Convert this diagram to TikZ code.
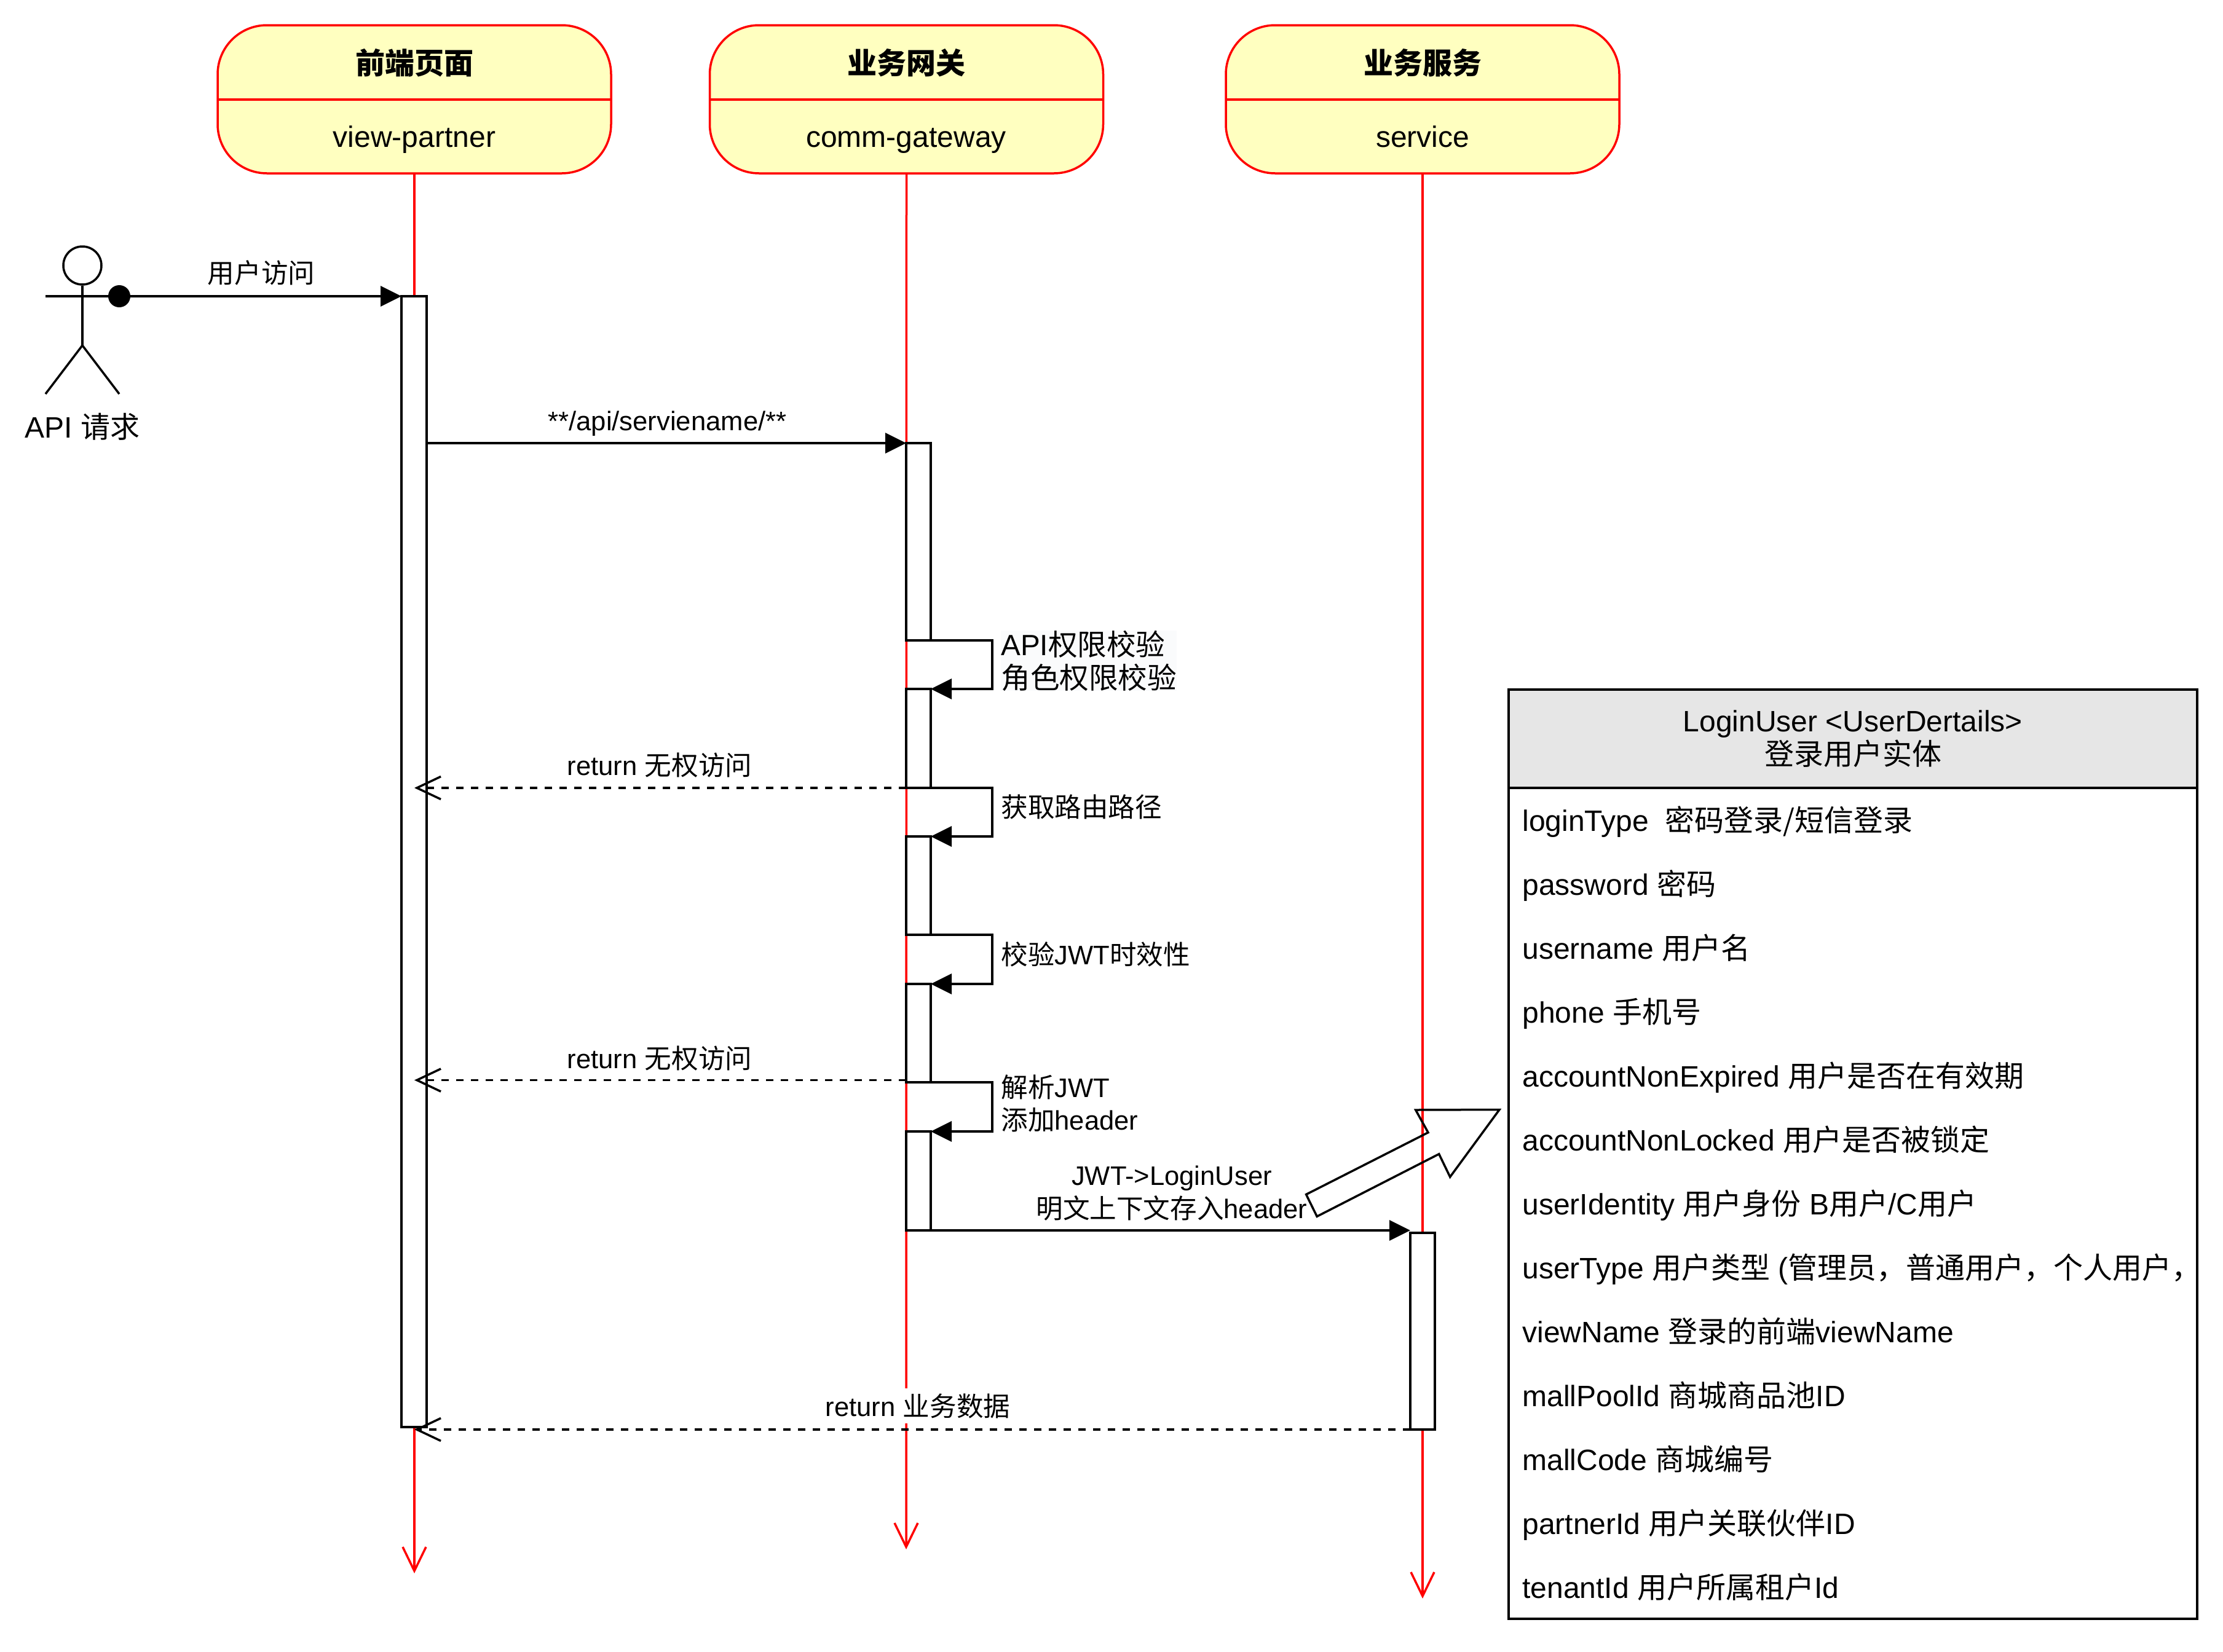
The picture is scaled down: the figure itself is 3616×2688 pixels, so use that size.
\documentclass[tikz,border=0pt]{standalone}
\usepackage{fontspec}
\usetikzlibrary{arrows.meta}
\setmainfont{Liberation Sans}
\newfontfamily\cjkfont{Noto Sans CJK SC}
\newcommand{\zh}[1]{{\cjkfont #1}}
\definecolor{lifered}{HTML}{FF0000}
\definecolor{headyellow}{HTML}{FFFFC0}
\definecolor{tablehead}{HTML}{E6E6E6}
\definecolor{tintbg}{HTML}{FAFBFC}
\tikzset{
  headbox/.style={draw=lifered,fill=headyellow,line width=1.75pt,rounded corners=40pt,minimum width=320pt,minimum height=120.5pt,inner sep=0pt,outer sep=0pt},
  headtext/.style={font=\fontsize{24pt}{27pt}\selectfont,anchor=base,inner sep=0pt},
  lifeline/.style={draw=lifered,line width=1.75pt,-{Straight Barb[length=19.5pt,width=19pt,line width=1.75pt]}},
  redrule/.style={draw=lifered,line width=1.75pt},
  actbox/.style={draw=black,fill=white,line width=1.75pt,inner sep=0pt,outer sep=0pt},
  msg/.style={draw=black,line width=1.75pt,-{Triangle[length=17pt,width=16.5pt]}},
  retmsg/.style={draw=black,line width=1.75pt,dash pattern=on 6pt off 6pt,-{Straight Barb[length=19.5pt,width=18.5pt,line width=1.75pt]}},
  msglabel/.style={font=\fontsize{21.8pt}{27pt}\selectfont,anchor=base,inner sep=0pt},
  selflabel/.style={font=\fontsize{21.8pt}{26.5pt}\selectfont,anchor=base west,inner sep=0pt,align=left},
  biglabel/.style={font=\fontsize{23.8pt}{27pt}\selectfont,anchor=west,inner sep=0pt,align=left,fill=tintbg},
  tablerow/.style={font=\fontsize{24pt}{27pt}\selectfont,anchor=base west,inner sep=0pt},
  stick/.style={draw=black,line width=1.75pt},
}
\begin{document}
\begin{tikzpicture}[x=0.5pt,y=-0.5pt]
\useasboundingbox (0,0) rectangle (3616,2688);
\fill[white] (0,0) rectangle (3616,2688);

% lifeline heads
\node[headbox] (h1) at (674,161.5) {};
\node[headbox] (h2) at (1474.5,161.5) {};
\node[headbox] (h3) at (2314,161.5) {};
\coordinate (d) at (0,162);
\draw[redrule] (h1.west |- d) -- (h1.east |- d);
\draw[redrule] (h2.west |- d) -- (h2.east |- d);
\draw[redrule] (h3.west |- d) -- (h3.east |- d);
\node[headtext] (t1) at (674,120) {\zh{\bfseries 前端页面}};
\node[headtext] (s1) at (674,239) {view-partner};
\node[headtext] (t2) at (1474,120) {\zh{\bfseries 业务网关}};
\node[headtext] (s2) at (1474,239) {comm-gateway};
\node[headtext] (t3) at (2314,120) {\zh{\bfseries 业务服务}};
\node[headtext] (s3) at (2314,239) {service};

% lifelines
\coordinate (e1) at (674,2560);
\coordinate (e2) at (1474,2521);
\coordinate (e3) at (2314,2601);
\draw[lifeline] (h1.south) -- (e1);
\draw[lifeline] (h2.south) -- (e2);
\draw[lifeline] (h3.south) -- (e3);

% activations
\node[actbox,minimum width=20.5pt,minimum height=920pt] (act1) at (673.5,1402) {};
\node[actbox,minimum width=20pt,minimum height=160.5pt] (a1) at (1494,881.5) {};
\node[actbox,minimum width=20pt,minimum height=80.5pt] (a2) at (1494,1201.5) {};
\node[actbox,minimum width=20pt,minimum height=80pt] (a3) at (1494,1441) {};
\node[actbox,minimum width=20pt,minimum height=80pt] (a4) at (1494,1681) {};
\node[actbox,minimum width=20pt,minimum height=80.5pt] (a5) at (1494,1921.5) {};
\node[actbox,minimum width=20pt,minimum height=160pt] (act3) at (2314,2166) {};

% actor
\node[draw=black,line width=1.75pt,circle,fill=white,minimum size=31pt,inner sep=0pt] (head) at (134,432) {};
\coordinate (armL) at (74,482);
\coordinate (armR) at (194,482);
\coordinate (hip) at (134,562);
\coordinate (footL) at (74,641);
\coordinate (footR) at (194,641);
\draw[stick] (armL) -- (armR);
\draw[stick] (head.south) -- (hip);
\draw[stick] (footL) -- (hip) -- (footR);
\node[headtext] (actorlabel) at (134,712) {API \zh{请求}};

% messages
\node[circle,fill=black,minimum size=18pt,inner sep=0pt] (dot) at (194,482) {};
\draw[msg] (dot.center) -- (act1.north west);
\node[msglabel] (m1) at (425,460) {\zh{用户访问}};
\draw[msg] (act1.east |- a1.north west) -- (a1.north west);
\node[msglabel] (m2) at (1085.5,700) {**/api/serviename/**};

% self calls
\coordinate (c1a) at (1614,1042);
\coordinate (c1b) at (1614,1121);
\draw[msg] (a1.south west) -- (c1a) -- (c1b) -- (a2.north east);
\draw[stick] (a2.north west) -- (a2.north east);
\coordinate (c2a) at (1614,1282);
\coordinate (c2b) at (1614,1361);
\draw[msg] (a2.south west) -- (c2a) -- (c2b) -- (a3.north east);
\draw[stick] (a3.north west) -- (a3.north east);
\coordinate (c3a) at (1614,1521);
\coordinate (c3b) at (1614,1601);
\draw[msg] (a3.south west) -- (c3a) -- (c3b) -- (a4.north east);
\draw[stick] (a4.north west) -- (a4.north east);
\coordinate (c4a) at (1614,1761);
\coordinate (c4b) at (1614,1841);
\draw[msg] (a4.south west) -- (c4a) -- (c4b) -- (a5.north east);
\draw[stick] (a5.north west) -- (a5.north east);

\node[biglabel] (l1) at (1628,1075) {API\zh{权限校验}\\\zh{角色权限校验}};
\node[selflabel] (l2) at (1628,1329) {\zh{获取路由路径}};
\node[selflabel] (l3) at (1628,1569) {\zh{校验}JWT\zh{时效性}};
\node[selflabel] (l4) at (1628,1838) {\zh{解析}JWT\\\zh{添加}header};

% returns
\coordinate (r2) at (1474,1757.5);
\draw[retmsg] (a2.south west) -- (h1.south |- a2.south);
\node[msglabel] (m3) at (1073,1261) {return \zh{无权访问}};
\draw[retmsg] (r2) -- (h1.south |- r2);
\node[msglabel] (m4) at (1073,1738) {return \zh{无权访问}};
\draw[msg] (a5.south west) -- (act3.west |- a5.south);
\node[msglabel,align=center] (m5) at (1906,1982) {JWT->LoginUser\\\zh{明文上下文存入}header};
\draw[retmsg] (act3.south west) -- (h1.south |- act3.south);
\node[msglabel,fill=white,inner xsep=1pt,inner ysep=4pt] (m6) at (1493,2304) {return \zh{业务数据}};

% hollow block arrow
\draw[stick,line join=miter] (2124.6,1943.5) -- (2142.2,1979.3) -- (2340.7,1877.7) -- (2358.7,1915) -- (2439,1805.5) -- (2302.7,1806) -- (2323,1842.7) -- cycle;

% entity table
\node[draw=black,fill=tablehead,line width=1.75pt,minimum width=560pt,minimum height=80pt,inner sep=0pt,outer sep=0pt] (tblh) at (3014,1202) {};
\node[draw=black,fill=white,line width=1.75pt,minimum width=560pt,minimum height=676pt,inner sep=0pt,outer sep=0pt] (tbl) at (3014,1958) {};
\node[font=\fontsize{24pt}{27pt}\selectfont,align=center,inner sep=0pt] (tblt) at (tblh.center) {LoginUser <UserDertails>\\\zh{登录用户实体}};
\node[tablerow] (r01) at (2476,1352) {loginType\ \ \zh{密码登录/短信登录}};
\node[tablerow] (r02) at (2476,1456) {password \zh{密码}};
\node[tablerow] (r03) at (2476,1560) {username \zh{用户名}};
\node[tablerow] (r04) at (2476,1664) {phone \zh{手机号}};
\node[tablerow] (r05) at (2476,1768) {accountNonExpired \zh{用户是否在有效期}};
\node[tablerow] (r06) at (2476,1872) {accountNonLocked \zh{用户是否被锁定}};
\node[tablerow] (r07) at (2476,1976) {userIdentity \zh{用户身份} B\zh{用户}/C\zh{用户}};
\node[tablerow] (r08) at (2476,2080) {userType \zh{用户类型} (\zh{管理员，普通用户，个人用户，}};
\node[tablerow] (r09) at (2476,2184) {viewName \zh{登录的前端}viewName};
\node[tablerow] (r10) at (2476,2288) {mallPoolId \zh{商城商品池}ID};
\node[tablerow] (r11) at (2476,2392) {mallCode \zh{商城编号}};
\node[tablerow] (r12) at (2476,2496) {partnerId \zh{用户关联伙伴}ID};
\node[tablerow] (r13) at (2476,2600) {tenantId \zh{用户所属租户}Id};
\end{tikzpicture}
\end{document}
